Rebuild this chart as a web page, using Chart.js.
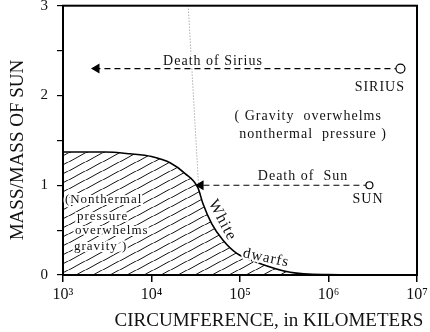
<!DOCTYPE html>
<html>
<head>
<meta charset="utf-8">
<script src="https://cdn.jsdelivr.net/npm/chart.js@4"></script>
<style>
  body { margin: 0; background: #fff; }
  canvas { display: block; }
</style>
</head>
<body>
<canvas id="mass-chart" width="430" height="332"></canvas>
<script>
// limit curve: circumference (km) vs mass (solar masses)
const circumference = [1e3, 3e3, 5.7e3, 1e4, 1.62e4, 2.4e4, 3.35e4, 3.8e4, 4.8e4, 6.4e4, 9.2e4, 1.56e5, 3.7e5, 9.6e5, 1e7];
const limitMass = [1.37, 1.37, 1.35, 1.32, 1.25, 1.13, 0.97, 0.8, 0.57, 0.39, 0.24, 0.14, 0.03, 0.005, 0];

// faint dotted guide down to the white dwarf curve
const guideCircumference = [2.6e4, 3.4e4];
const guideMass = [3, 1.0];

// stars and where they end up
const siriusCircumference = [6.5e6, 2.4e3];
const siriusMass = [2.3, 2.3];
const sunCircumference = [2.9e6, 3.6e4];
const sunMass = [1.0, 1.0];

const xTicks = [1e3, 1e4, 1e5, 1e6, 1e7];
const xTickLabels = ["10³", "10⁴", "10⁵", "10⁶", "10⁷"];

const FONT = "'Liberation Serif', 'DejaVu Serif', serif";

function points(xs, ys) {
  return xs.map((x, i) => ({ x: x, y: ys[i] }));
}

function hatchPattern() {
  const w = 17, h = 9.5;
  const tile = document.createElement("canvas");
  tile.width = w;
  tile.height = h;
  const c = tile.getContext("2d");
  c.strokeStyle = "#111";
  c.lineWidth = 1;
  for (const k of [-1, 0, 1]) {
    c.beginPath();
    c.moveTo(0, h + k * h);
    c.lineTo(w, k * h);
    c.stroke();
  }
  return c.createPattern(tile, "repeat");
}

// text placed in data coordinates
const notes = [
  { text: "Death of Sirius", x: 4.95e4, y: 2.38, size: 14 },
  { text: "SIRIUS", x: 3.8e6, y: 2.09, size: 14 },
  { text: "( Gravity  overwhelms", x: 5.9e5, y: 1.77, size: 14 },
  { text: "nonthermal  pressure )", x: 6.7e5, y: 1.57, size: 14 },
  { text: "Death of  Sun", x: 5.15e5, y: 1.1, size: 14 },
  { text: "SUN", x: 2.8e6, y: 0.84, size: 14 },
  { text: "(Nonthermal", x: 1.05e3, y: 0.84, size: 13, align: "left" },
  { text: "pressure", x: 1.44e3, y: 0.65, size: 13, align: "left" },
  { text: "overwhelms", x: 1.37e3, y: 0.49, size: 13, align: "left" },
  { text: "gravity )", x: 1.33e3, y: 0.32, size: 13, align: "left" },
  { text: "White", x: 6.3e4, y: 0.61, size: 16, rotate: 62 },
  { text: "dwarfs", x: 1.97e5, y: 0.19, size: 15, rotate: 12 },
];

const framePlugin = {
  id: "frame",
  afterDatasetsDraw(chart) {
    const { ctx, chartArea } = chart;
    ctx.save();
    ctx.strokeStyle = "#000";
    ctx.lineWidth = 2;
    ctx.strokeRect(chartArea.left, chartArea.top, chartArea.right - chartArea.left, chartArea.bottom - chartArea.top);
    ctx.restore();
  },
  afterDraw(chart) {
    const { ctx, scales } = chart;
    ctx.save();
    ctx.fillStyle = "#111";
    ctx.textBaseline = "middle";
    notes.forEach((n) => {
      const px = scales.x.getPixelForValue(n.x);
      const py = scales.y.getPixelForValue(n.y);
      ctx.save();
      ctx.translate(px, py);
      if (n.rotate) ctx.rotate((n.rotate * Math.PI) / 180);
      ctx.font = n.size + "px " + FONT;
      ctx.letterSpacing = "1px";
      ctx.textAlign = n.align || "center";
      ctx.strokeStyle = "#fff";
      ctx.lineWidth = 4;
      ctx.strokeText(n.text, 0, 0);
      ctx.fillText(n.text, 0, 0);
      ctx.restore();
    });

    // axis titles
    ctx.textAlign = "center";
    ctx.letterSpacing = "0px";
    ctx.font = "19px " + FONT;
    ctx.fillText("CIRCUMFERENCE, in KILOMETERS", 269, 321);
    ctx.translate(18, 150);
    ctx.rotate(-Math.PI / 2);
    ctx.fillText("MASS/MASS OF SUN", 0, 0);
    ctx.restore();
  },
};

const ctx = document.getElementById("mass-chart").getContext("2d");
const massChart = new Chart(ctx, {
  type: "line",
  data: {
    datasets: [
      {
        data: points(siriusCircumference, siriusMass),
        borderColor: "#000",
        borderWidth: 1.2,
        borderDash: [6, 4],
        pointStyle: "triangle",
        pointRotation: -90,
        pointRadius: [0, 4.5],
        pointBackgroundColor: "#000",
        pointBorderColor: "#000",
        order: 2,
      },
      {
        data: points(sunCircumference, sunMass),
        borderColor: "#000",
        borderWidth: 1.2,
        borderDash: [6, 4],
        pointStyle: "triangle",
        pointRotation: -90,
        pointRadius: [0, 4.5],
        pointBackgroundColor: "#000",
        pointBorderColor: "#000",
        order: 2,
      },
      {
        data: points(siriusCircumference.slice(0, 1), siriusMass.slice(0, 1)),
        showLine: false,
        pointRadius: 4.5,
        pointBackgroundColor: "#fff",
        pointBorderColor: "#000",
        pointBorderWidth: 1.2,
        order: 1,
      },
      {
        data: points(sunCircumference.slice(0, 1), sunMass.slice(0, 1)),
        showLine: false,
        pointRadius: 3.5,
        pointBackgroundColor: "#fff",
        pointBorderColor: "#000",
        pointBorderWidth: 1.2,
        order: 1,
      },
      {
        data: points(guideCircumference, guideMass),
        borderColor: "#888",
        borderWidth: 1,
        borderDash: [1, 2],
        pointRadius: 0,
        order: 4,
      },
      {
        data: points(circumference, limitMass),
        borderColor: "#000",
        borderWidth: 1.6,
        backgroundColor: hatchPattern(),
        fill: "origin",
        cubicInterpolationMode: "monotone",
        pointRadius: 0,
        order: 3,
      },
    ],
  },
  options: {
    responsive: false,
    animation: false,
    layout: { padding: { left: 0, top: 4, right: 13, bottom: 0 } },
    plugins: { legend: { display: false }, tooltip: { enabled: false } },
    scales: {
      x: {
        type: "logarithmic",
        min: 1e3,
        max: 1e7,
        afterBuildTicks: (scale) => {
          scale.ticks = xTicks.map((v) => ({ value: v }));
        },
        afterFit: (scale) => {
          scale.height = 57;
          scale.paddingLeft = 0;
          scale.paddingRight = 0;
        },
        ticks: {
          autoSkip: false,
          maxRotation: 0,
          padding: 3,
          color: "#111",
          font: { family: FONT, size: 16 },
          callback: (v, i) => xTickLabels[i],
        },
        grid: { drawOnChartArea: false, tickLength: 7, color: "#000", lineWidth: 1.5 },
        border: { display: true, color: "#000", width: 2 },
      },
      y: {
        min: 0,
        max: 3,
        afterFit: (scale) => {
          scale.width = 63;
          scale.paddingTop = 0;
          scale.paddingBottom = 0;
        },
        ticks: {
          stepSize: 0.5,
          padding: 9,
          color: "#111",
          font: { family: FONT, size: 15 },
          callback: (v) => (Number.isInteger(v) ? String(v) : ""),
        },
        grid: { drawOnChartArea: false, tickLength: 6, color: "#000", lineWidth: 1.2 },
        border: { display: true, color: "#000", width: 2 },
      },
    },
  },
  plugins: [framePlugin],
});
</script>
</body>
</html>
